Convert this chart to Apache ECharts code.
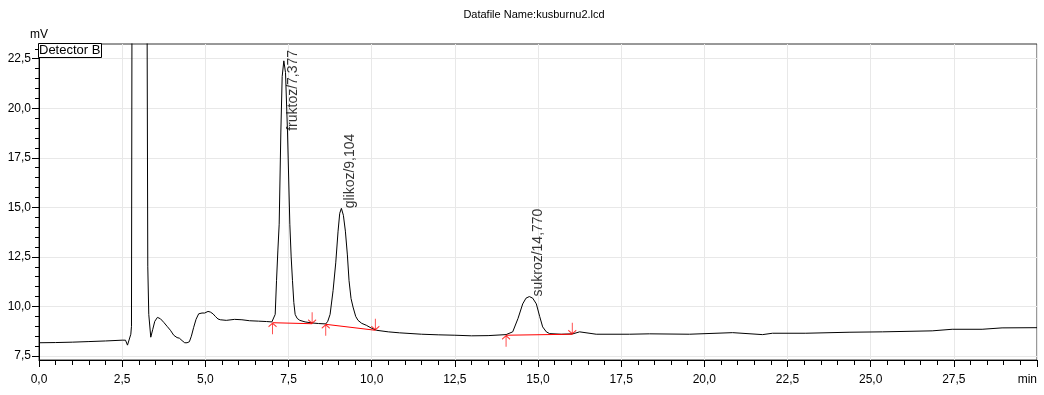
<!DOCTYPE html>
<html>
<head>
<meta charset="utf-8">
<script src="https://cdn.jsdelivr.net/npm/echarts@6/dist/echarts.min.js"></script>
<style>
  html, body { margin: 0; padding: 0; background: #fff; }
  #chart { width: 1044px; height: 395px; }
</style>
</head>
<body>
<div id="chart"></div>
<script>
// retention time (min) and detector signal (mV)
const times = [
  0.0, 0.5, 1.0, 1.5, 2.0, 2.5, 2.6, 2.66, 2.7, 2.76, 2.78, 2.8, 2.9, 3.05, 3.2, 3.24, 3.27, 3.3, 3.36,
  3.42, 3.48, 3.56, 3.65, 3.75, 3.85, 3.95, 4.05, 4.15, 4.22, 4.3, 4.38, 4.45, 4.52, 4.58, 4.65, 4.72,
  4.8, 4.9, 4.98, 5.08, 5.15, 5.23, 5.3, 5.38, 5.45, 5.63, 5.88, 6.1, 6.33, 6.6, 6.84, 7.0,
  7.06, 7.1, 7.14, 7.18, 7.22, 7.27, 7.31, 7.36, 7.41, 7.47, 7.54, 7.58, 7.62, 7.66, 7.7, 7.76, 7.84,
  8.0, 8.2, 8.4, 8.62, 8.68, 8.75, 8.84, 8.92, 8.99, 9.04, 9.09, 9.15, 9.21, 9.27, 9.32, 9.38, 9.44,
  9.52, 9.59, 9.7, 9.84, 10.0, 10.14, 10.5, 10.84, 11.5, 12.0, 12.5, 13.0, 13.5, 14.04, 14.24, 14.4,
  14.54, 14.64, 14.74, 14.84, 14.95, 15.05, 15.14, 15.25, 15.35, 15.7, 16.05, 16.25, 16.75, 17.75,
  18.35, 19.55, 20.85, 21.75, 22.05, 23.05, 24.35, 25.35, 26.85, 27.45, 28.35, 28.95, 30.0
];
const signal = [
  8.17, 8.18, 8.2, 8.23, 8.26, 8.3, 8.3, 8.05, 7.97, 8.6, 9.0, 30, 80, 100, 70, 30, 12, 9.6, 8.45,
  8.85, 9.25, 9.45, 9.38, 9.2, 9.0, 8.8, 8.55, 8.43, 8.4, 8.28, 8.17, 8.17, 8.22, 8.5, 8.95, 9.35,
  9.63, 9.67, 9.67, 9.75, 9.72, 9.63, 9.5, 9.37, 9.33, 9.3, 9.35, 9.33, 9.28, 9.26, 9.24, 9.22,
  9.3, 9.6, 11.3, 12.8, 14.15, 18.8, 21.6, 22.39, 21.8, 18.8, 14.15, 12.5, 11.3, 10.2, 9.6, 9.4, 9.3,
  9.22, 9.17, 9.14, 9.12, 9.25, 9.6, 10.8, 12.2, 13.8, 14.7, 14.95, 14.6, 13.8, 12.6, 11.3, 10.4, 9.97,
  9.5, 9.3, 9.15, 9.05, 8.9, 8.8, 8.72, 8.67, 8.6, 8.57, 8.55, 8.52, 8.53, 8.58, 8.72, 9.4,
  10.13, 10.42, 10.5, 10.42, 10.13, 9.5, 8.97, 8.72, 8.63, 8.6, 8.62, 8.72, 8.6, 8.6,
  8.62, 8.6, 8.68, 8.58, 8.65, 8.65, 8.7, 8.72, 8.77, 8.85, 8.85, 8.92, 8.93
];

// identified peaks
const peakNames = ['fruktoz', 'glikoz', 'sukroz'];
const peakTimes = [7.377, 9.104, 14.770];
const peakApexTime = [7.36, 9.09, 14.74];
const peakApexHeight = [22.39, 14.95, 10.5];

// integration baselines (start / end of each peak)
const baseStartTime = [7.02, 8.62, 14.04];
const baseStartValue = [9.18, 9.1, 8.55];
const baseEndTime = [8.21, 10.11, 16.03];
const baseEndValue = [9.13, 8.8, 8.6];

const yTicks = [7.5, 10.0, 12.5, 15.0, 17.5, 20.0, 22.5];
const yMinorTicks = [];
for (let v = 7.5; v <= 23.0; v += 0.5) yMinorTicks.push(+v.toFixed(1));

const fmt = v => v.toFixed(1).replace('.', ',');

const chart = echarts.init(document.getElementById('chart'));

const trace = times.map((t, i) => [t, signal[i]]);

const baselineSeries = baseStartTime.map((t, i) => ({
  type: 'line',
  data: [[t, baseStartValue[i]], [baseEndTime[i], baseEndValue[i]]],
  symbol: 'none',
  silent: true,
  lineStyle: { color: '#ff0000', width: 1 },
  z: 3
}));

const upArrow = 'path://M5,0 L5,16 M1,5 L5,0 L9,5';
const downArrow = 'path://M5,16 L5,0 M1,11 L5,16 L9,11';

const arrowStyle = { color: 'rgba(0,0,0,0)', borderColor: '#ff0000', borderWidth: 1 };

const option = {
  animation: false,
  backgroundColor: '#fff',
  textStyle: { fontFamily: 'Liberation Sans, Arial, sans-serif' },
  title: [
    {
      text: 'Datafile Name:kusburnu2.lcd',
      left: 529,
      textAlign: 'center',
      top: 4,
      textStyle: { fontSize: 11, fontWeight: 'normal', color: '#000', fontFamily: 'Liberation Sans' }
    },
    {
      text: 'Detector B',
      left: 38,
      top: 43,
      padding: [1, 1, 1, 1],
      borderColor: '#000',
      borderWidth: 1,
      backgroundColor: '#fff',
      textStyle: { fontSize: 13, fontWeight: 'normal', color: '#000', fontFamily: 'Liberation Sans' }
    }
  ],
  grid: {
    left: 39, right: 7, top: 44, bottom: 35,
    show: true, borderColor: '#333', borderWidth: 1
  },
  xAxis: {
    type: 'value',
    min: 0, max: 30, interval: 2.5,
    axisLine: { show: true, onZero: false, lineStyle: { color: '#000', width: 1 } },
    axisTick: { show: true, length: 7, lineStyle: { color: '#000' } },
    minorTick: { show: true, splitNumber: 5, length: 5, lineStyle: { color: '#000' } },
    axisLabel: {
      color: '#000', fontSize: 12, margin: 14,
      fontFamily: 'Liberation Sans',
      alignMaxLabel: 'right',
      formatter: v => (v >= 30 ? 'min' : fmt(v))
    },
    splitLine: { show: true, lineStyle: { color: '#e8e8e8' } }
  },
  yAxis: [
    {
      type: 'value',
      min: 7.3, max: 23.24,
      name: 'mV',
      nameLocation: 'end',
      nameGap: 3,
      nameTextStyle: { color: '#000', fontSize: 12, align: 'center', fontFamily: 'Liberation Sans' },
      axisLine: { show: true, onZero: false, lineStyle: { color: '#000', width: 1 } },
      axisTick: { show: true, length: 7, customValues: yTicks, lineStyle: { color: '#000' } },
      axisLabel: {
        color: '#000', fontSize: 12, margin: 8,
        fontFamily: 'Liberation Sans',
        customValues: yTicks,
        formatter: v => fmt(v)
      },
      splitLine: { show: true, lineStyle: { color: '#e8e8e8' } }
    },
    {
      // minor ticks every 0.5 mV
      type: 'value',
      min: 7.3, max: 23.24,
      position: 'left',
      offset: 0,
      axisLine: { show: true, onZero: false, lineStyle: { color: '#000', width: 1 } },
      axisTick: { show: true, length: 4, customValues: yMinorTicks, lineStyle: { color: '#000' } },
      axisLabel: { show: false, customValues: yMinorTicks },
      splitLine: { show: false }
    }
  ],
  series: [
    {
      type: 'line',
      data: trace,
      symbol: 'none',
      clip: true,
      lineStyle: { color: '#000', width: 1 },
      z: 2
    },
    {
      type: 'line',
      yAxisIndex: 1,
      data: [],
      symbol: 'none'
    },
    ...baselineSeries,
    {
      type: 'scatter',
      data: baseStartTime.map((t, i) => [t, baseStartValue[i]]),
      symbol: upArrow,
      symbolSize: [8, 11],
      symbolOffset: [0, 6],
      itemStyle: arrowStyle,
      silent: true,
      z: 4
    },
    {
      type: 'scatter',
      data: baseEndTime.map((t, i) => [t, baseEndValue[i]]),
      symbol: downArrow,
      symbolSize: [8, 11],
      symbolOffset: [0, -6],
      itemStyle: arrowStyle,
      silent: true,
      z: 4
    },
    {
      type: 'scatter',
      data: peakNames.map((n, i) => ({
        value: [peakApexTime[i], peakApexHeight[i]],
        name: n + '/' + peakTimes[i].toFixed(3).replace('.', ','),
        // tallest peak label is pushed down (offset is along the rotated text) so it stays inside the plot
        label: { offset: i === 0 ? [-70, 0] : [0, 0] }
      })),
      symbolSize: 0,
      silent: true,
      label: {
        show: true,
        formatter: p => p.name,
        position: [9, 0],
        rotate: 90,
        align: 'left',
        verticalAlign: 'middle',
        color: '#000',
        fontSize: 14,
        fontFamily: 'Liberation Sans'
      },
      z: 5
    }
  ]
};

chart.setOption(option);
</script>
</body>
</html>
